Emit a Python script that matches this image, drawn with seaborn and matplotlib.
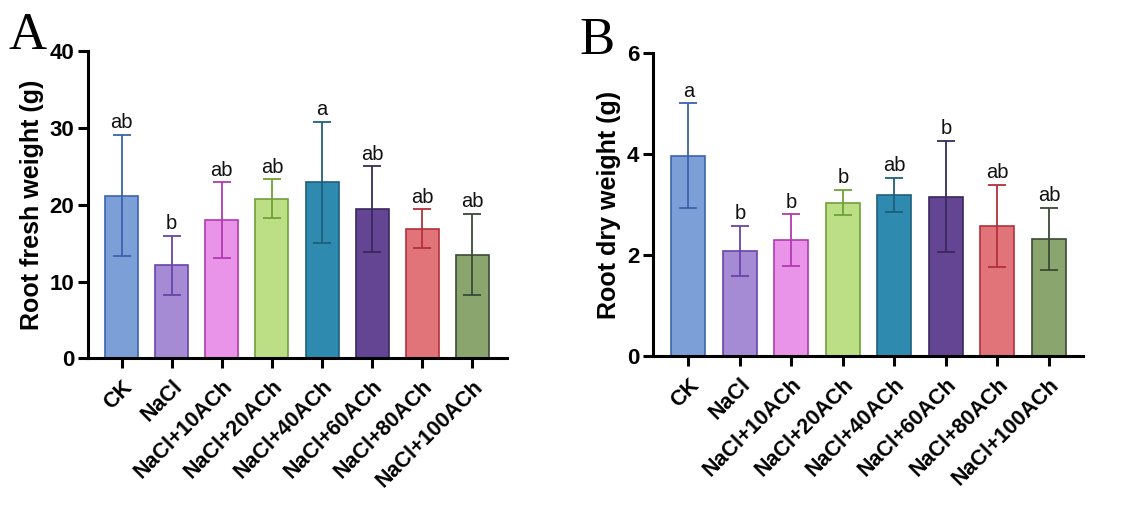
import matplotlib
matplotlib.use("Agg")
import matplotlib.pyplot as plt
import seaborn as sns
import pandas as pd

groups = ["CK", "NaCl", "NaCl+10ACh", "NaCl+20ACh", "NaCl+40ACh",
          "NaCl+60ACh", "NaCl+80ACh", "NaCl+100ACh"]
fresh_mean = [21.2, 12.1, 18.0, 20.8, 22.9, 19.4, 16.9, 13.5]
fresh_sd = [7.9, 3.8, 4.9, 2.5, 7.9, 5.6, 2.5, 5.3]
fresh_letters = ["ab", "b", "ab", "ab", "a", "ab", "ab", "ab"]
dry_mean = [3.97, 2.09, 2.30, 3.04, 3.19, 3.16, 2.58, 2.32]
dry_sd = [1.04, 0.49, 0.51, 0.25, 0.34, 1.10, 0.81, 0.62]
dry_letters = ["a", "b", "b", "b", "ab", "b", "ab", "ab"]

fill_colors = ["#7b9fd6", "#a58bd3", "#e994e8", "#bcdf85", "#2e8aae",
               "#634593", "#e07479", "#8aa56d"]
edge_colors = ["#3b63ad", "#6a43ab", "#b23ab1", "#6ea237", "#1f5f7c",
               "#372a5c", "#b3303a", "#3b4a36"]

sns.set_theme(style="ticks")
plt.rcParams["font.family"] = ["Liberation Sans", "DejaVu Sans"]
plt.rcParams["text.color"] = "black"
plt.rcParams["axes.labelcolor"] = "black"
plt.rcParams["xtick.color"] = "black"
plt.rcParams["ytick.color"] = "black"

fig = plt.figure(figsize=(11.21, 5.11), dpi=100)
axA = fig.add_axes([0.0785, 0.2988, 0.3738, 0.601])
axB = fig.add_axes([0.5828, 0.3027, 0.3833, 0.593])


def draw(ax, means, sds, letters, ylabel, ymax, yticks, xlim):
    df = pd.DataFrame({"group": groups, "value": means})
    sns.barplot(data=df, x="group", y="value", hue="group", order=groups,
                hue_order=groups, palette=fill_colors, dodge=False,
                width=0.66, errorbar=None, legend=False, ax=ax,
                linewidth=1.2, saturation=1)
    for i, p in enumerate(ax.patches):
        p.set_edgecolor(edge_colors[i])
        p.set_linewidth(1.2)
    for i in range(len(groups)):
        ax.errorbar(i, means[i], yerr=sds[i], color=edge_colors[i],
                    capsize=6.5, capthick=1.3, elinewidth=1.3, fmt="none",
                    zorder=3)
        ax.annotate(letters[i], (i, means[i] + sds[i]), xytext=(0, 2),
                    textcoords="offset points", ha="center", va="bottom",
                    fontsize=14.5, color="#111111")
    ax.set_ylim(0, ymax)
    ax.set_xlim(*xlim)
    ax.set_yticks(yticks)
    ax.set_xlabel("")
    ax.set_ylabel(ylabel, fontsize=18, fontweight="bold", labelpad=4)
    for s in ["top", "right"]:
        ax.spines[s].set_visible(False)
    for s in ["left", "bottom"]:
        ax.spines[s].set_linewidth(2.2)
        ax.spines[s].set_color("black")
    ax.tick_params(axis="both", width=2.2, length=7, color="black",
                   labelsize=16, pad=3)
    ax.tick_params(axis="x", pad=6)
    ax.set_xticks(range(len(groups)))
    ax.set_xticklabels(groups, rotation=45, ha="right",
                       rotation_mode="anchor", fontweight="bold",
                       fontsize=15.5)
    for t in ax.get_yticklabels():
        t.set_fontweight("bold")


draw(axA, fresh_mean, fresh_sd, fresh_letters, "Root fresh weight (g)",
     40, [0, 10, 20, 30, 40], (-0.67, 7.69))
draw(axB, dry_mean, dry_sd, dry_letters, "Root dry weight (g)",
     6, [0, 2, 4, 6], (-0.68, 7.66))

fig.text(0.008, 0.905, "A", fontsize=38, family="Liberation Serif")
fig.text(0.517, 0.895, "B", fontsize=38, family="Liberation Serif")

fig.savefig("out.png", dpi=100, facecolor="white")
